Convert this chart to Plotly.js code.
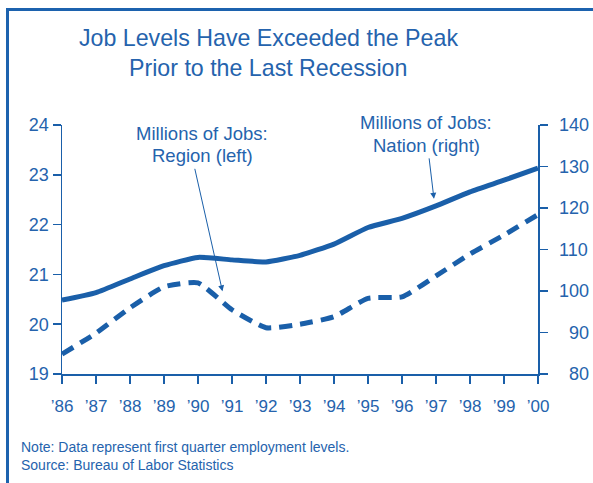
<!DOCTYPE html>
<html>
<head>
<meta charset="utf-8">
<script src="https://cdn.plot.ly/plotly-3.0.1.min.js"></script>
<style>
  html, body { margin: 0; padding: 0; background: #ffffff; }
  #chart { position: absolute; left: 0; top: 0; width: 593px; height: 483px; }
  #frame { position: absolute; left: 6px; top: 8px; width: 700px; height: 600px;
           border-left: 3px solid #1c62ae; border-top: 3px solid #1c62ae;
           pointer-events: none; z-index: 5; }
</style>
</head>
<body>
<div id="chart"></div>
<div id="frame"></div>
<script>
// ---- data ----
const years = [1986, 1987, 1988, 1989, 1990, 1991, 1992, 1993, 1994, 1995, 1996, 1997, 1998, 1999, 2000];
const xTickLabels = ["\u201986", "\u201987", "\u201988", "\u201989", "\u201990", "\u201991", "\u201992", "\u201993", "\u201994", "\u201995", "\u201996", "\u201997", "\u201998", "\u201999", "\u201900"];
// Region employment, millions (left axis)
const regionJobs = [19.40, 19.82, 20.33, 20.75, 20.83, 20.29, 19.93, 20.00, 20.15, 20.52, 20.55, 20.97, 21.41, 21.79, 22.20];
// Nation employment, millions (right axis)
const nationJobs = [97.8, 99.6, 102.9, 106.1, 108.1, 107.5, 107.0, 108.6, 111.3, 115.3, 117.5, 120.5, 123.9, 126.7, 129.6];
const leftTicks = [19, 20, 21, 22, 23, 24];
const rightTicks = [80, 90, 100, 110, 120, 130, 140];
const rightTickText = ["\u200780", "\u200790", "100", "110", "120", "130", "140"];
const titleLines = ["Job Levels Have Exceeded the Peak", "Prior to the Last Recession"];
const regionLabel = ["Millions of Jobs:", "Region (left)"];
const nationLabel = ["Millions of Jobs:", "Nation (right)"];
const noteText = "Note: Data represent first quarter employment levels.<br>Source: Bureau of Labor Statistics";

const BLUE = "#1a5fa9";
const TXT = "#2563ad";
const FONT = "Liberation Sans, Arial, sans-serif";

const traces = [
  {
    x: years, y: nationJobs, yaxis: "y2", type: "scatter", mode: "lines",
    line: { color: BLUE, width: 5, shape: "spline", smoothing: 0.5 },
    hoverinfo: "skip", showlegend: false
  },
  {
    x: years, y: regionJobs, yaxis: "y", type: "scatter", mode: "lines",
    line: { color: BLUE, width: 5, dash: "13px,8px", shape: "spline", smoothing: 0.5 },
    hoverinfo: "skip", showlegend: false
  }
];

const axisCommon = {
  showgrid: false, zeroline: false, showline: true, linecolor: BLUE, linewidth: 1.5,
  ticks: "outside", ticklen: 8, tickwidth: 1.5, tickcolor: BLUE,
  tickfont: { family: FONT, size: 18, color: TXT }, fixedrange: true
};

// helpers: pixel -> paper coords for text placement
const PL = 62, PR = 538, PT = 125, PB = 374;
const px = v => (v - PL) / (PR - PL);
const py = v => (PB - v) / (PB - PT);

function textAnn(text, xPix, yPix, size, anchor) {
  return {
    text: text, xref: "paper", yref: "paper", x: px(xPix), y: py(yPix),
    xanchor: anchor || "center", yanchor: "middle", showarrow: false,
    font: { family: FONT, size: size, color: TXT }
  };
}

const layout = {
  width: 593, height: 483,
  margin: { l: PL, r: 593 - PR, t: PT, b: 483 - PB },
  paper_bgcolor: "rgba(0,0,0,0)", plot_bgcolor: "rgba(0,0,0,0)",
  showlegend: false,
  xaxis: Object.assign({}, axisCommon, {
    range: [1986, 2000], tickvals: years, ticktext: xTickLabels,
    tickfont: { family: FONT, size: 17, color: TXT }, ticklabelstandoff: 8
  }),
  yaxis: Object.assign({}, axisCommon, {
    range: [19, 24], tickvals: leftTicks, ticklabelstandoff: 0
  }),
  yaxis2: Object.assign({}, axisCommon, {
    range: [80, 140], tickvals: rightTicks, ticktext: rightTickText,
    overlaying: "y", side: "right", anchor: "x", ticklabelstandoff: 8
  }),
  annotations: [
    textAnn(titleLines[0], 268, 38, 23.2),
    textAnn(titleLines[1], 268, 68, 23.2),
    textAnn(regionLabel[0], 202, 133, 18.5),
    textAnn(regionLabel[1], 202, 155, 18.5),
    textAnn(nationLabel[0], 426, 123, 18.5),
    textAnn(nationLabel[1], 426, 145, 18.5),
    {
      text: "", xref: "x", yref: "y", x: 1990.72, y: 20.66,
      showarrow: true, arrowhead: 2, arrowsize: 1.2, arrowwidth: 1, arrowcolor: BLUE,
      ax: -28, ay: -124, standoff: 0
    },
    {
      text: "", xref: "x", yref: "y2", x: 1996.94, y: 122.2,
      showarrow: true, arrowhead: 2, arrowsize: 1.2, arrowwidth: 1, arrowcolor: BLUE,
      ax: -5, ay: -42, standoff: 0
    },
    {
      text: noteText, xref: "paper", yref: "paper", x: px(19), y: py(456),
      xanchor: "left", yanchor: "middle", align: "left", showarrow: false,
      font: { family: FONT, size: 14, color: TXT }
    }
  ]
};

Plotly.newPlot("chart", traces, layout, { staticPlot: true, displayModeBar: false });
</script>
</body>
</html>
